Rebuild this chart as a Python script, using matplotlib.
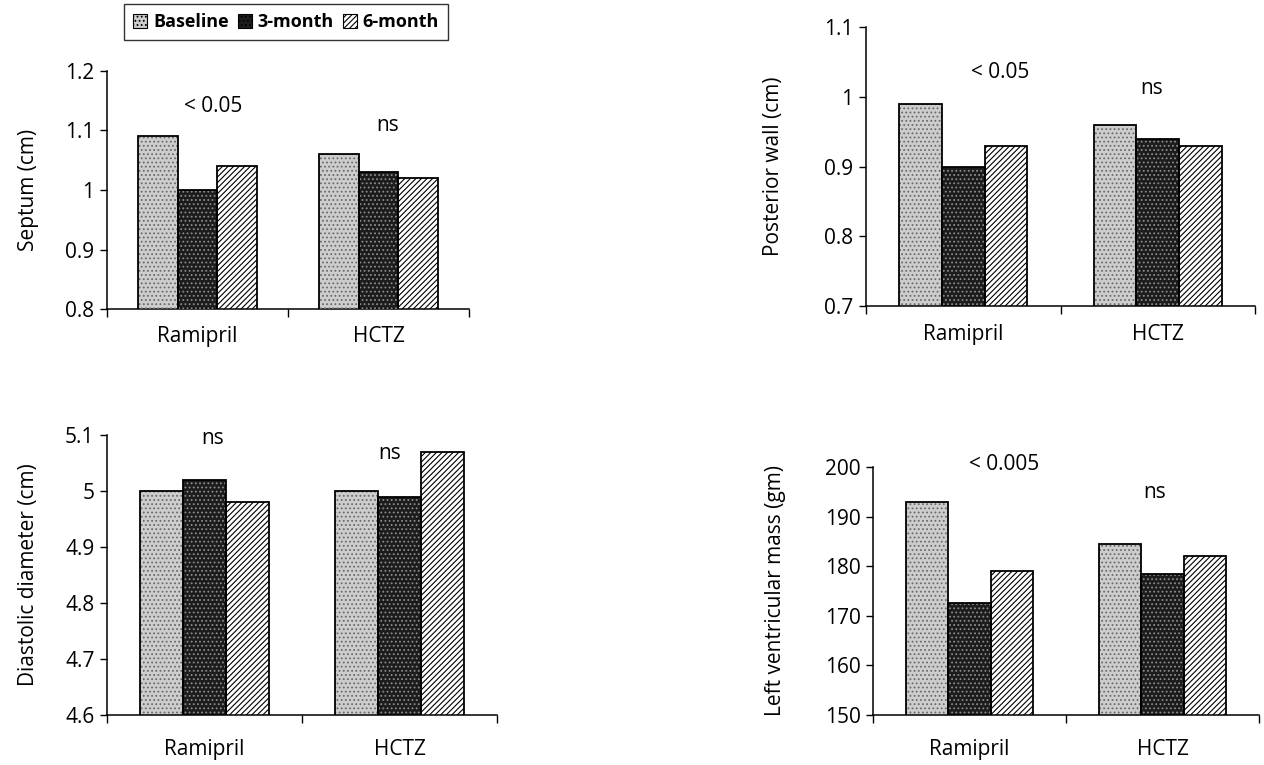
import numpy as np
import matplotlib
matplotlib.use("Agg")
import matplotlib.pyplot as plt
from matplotlib.patches import Patch

plt.rcParams['font.family'] = ['Open Sans', 'DejaVu Sans']
plt.rcParams['hatch.linewidth'] = 0.8

# data
groups = ["Ramipril", "HCTZ"]
periods = ["Baseline", "3-month", "6-month"]

septum = [[1.09, 1.06], [1.00, 1.03], [1.04, 1.02]]
post_wall = [[0.99, 0.96], [0.90, 0.94], [0.93, 0.93]]
diastolic = [[5.00, 5.00], [5.02, 4.99], [4.98, 5.07]]
lv_mass = [[193.0, 184.5], [172.5, 178.5], [179.0, 182.0]]

# (ylabel, values, ylim, step, annotations)
panels = [
    ("Septum (cm)", septum, (0.8, 1.2), 0.1,
     [("< 0.05", 0.585, 1.14), ("ns", 1.55, 1.109)]),
    ("Posterior wall (cm)", post_wall, (0.7, 1.1), 0.1,
     [("< 0.05", 0.69, 1.035), ("ns", 1.47, 1.0125)]),
    ("Diastolic diameter (cm)", diastolic, (4.6, 5.1), 0.1,
     [("ns", 0.54, 5.094), ("ns", 1.45, 5.067)]),
    ("Left ventricular mass (gm)", lv_mass, (150, 200), 10,
     [("< 0.005", 0.68, 200.6), ("ns", 1.46, 194.8)]),
]

# pixel boxes of each axes: left, right, top, bottom
boxes = [(107, 469, 71, 309), (866, 1255, 27, 306),
         (107, 497, 435, 715), (873, 1259, 467, 715)]
ylabel_x = [29, 773, 29, 776]
cat_pad = [12, 13, 17, 17]

styles = [
    dict(face="#cdcdcd", hatch="....", hcol="#6a6a6a"),
    dict(face="#1c1c1c", hatch="....", hcol="#8c8c8c"),
    dict(face="white", hatch="//////", hcol="black"),
]

W, H = 1264, 765
fig = plt.figure(figsize=(W / 100, H / 100), dpi=100)

width = 0.22
offsets = [-width, 0, width]
xc = np.arange(len(groups)) + 0.5

for i, ((ylab, vals, ylim, step, notes), (l, r, t, b)) in enumerate(zip(panels, boxes)):
    ax = fig.add_axes([l / W, 1 - b / H, (r - l) / W, (b - t) / H])
    for k in range(3):
        st = styles[k]
        x = xc + offsets[k]
        ax.bar(x, vals[k], width, color=st["face"], edgecolor="none", zorder=2)
        ax.bar(x, vals[k], width, fill=False, hatch=st["hatch"],
               edgecolor=st["hcol"], linewidth=0, zorder=3)
        ax.bar(x, vals[k], width, fill=False, edgecolor="black",
               linewidth=1.3, zorder=4)
    for txt, xx, yy in notes:
        ax.text(xx, yy, txt, ha="center", va="center", fontsize=15)

    ax.set_xlim(0, 2)
    ax.set_ylim(*ylim)
    ticks = np.arange(ylim[0], ylim[1] + step / 2, step)
    ax.set_yticks(ticks)
    ax.set_yticklabels(["%g" % round(v, 2) for v in ticks])
    ax.set_xticks([0, 1, 2])
    ax.set_xticklabels([])
    ax.set_xticks(xc, minor=True)
    ax.set_xticklabels(groups, minor=True)
    ax.tick_params(axis="x", which="minor", length=0, pad=cat_pad[i], labelsize=15)
    ax.tick_params(axis="x", which="major", length=6, width=1)
    ax.tick_params(axis="y", length=5, width=1, labelsize=15, pad=4)
    for s in ["top", "right"]:
        ax.spines[s].set_visible(False)
    for s in ["left", "bottom"]:
        ax.spines[s].set_linewidth(1.1)
    ax.set_ylabel(ylab, fontsize=15, va="center")
    ax.yaxis.set_label_coords((ylabel_x[i] - l) / (r - l), 0.5)

handles = [Patch(facecolor=st["face"], hatch=st["hatch"], edgecolor="black",
                 linewidth=0.8) for st in styles]
leg = fig.legend(handles, periods, loc="upper left",
                 bbox_to_anchor=(124 / W, 1 - 4 / H), ncol=3,
                 prop={"size": 13, "weight": "bold"},
                 frameon=True, fancybox=False, edgecolor="black",
                 handlelength=0.8, handleheight=0.8, handletextpad=0.3,
                 columnspacing=0.5, borderpad=0.5, borderaxespad=0)
leg.get_frame().set_linewidth(1.0)

fig.savefig("out.png", dpi=100)
